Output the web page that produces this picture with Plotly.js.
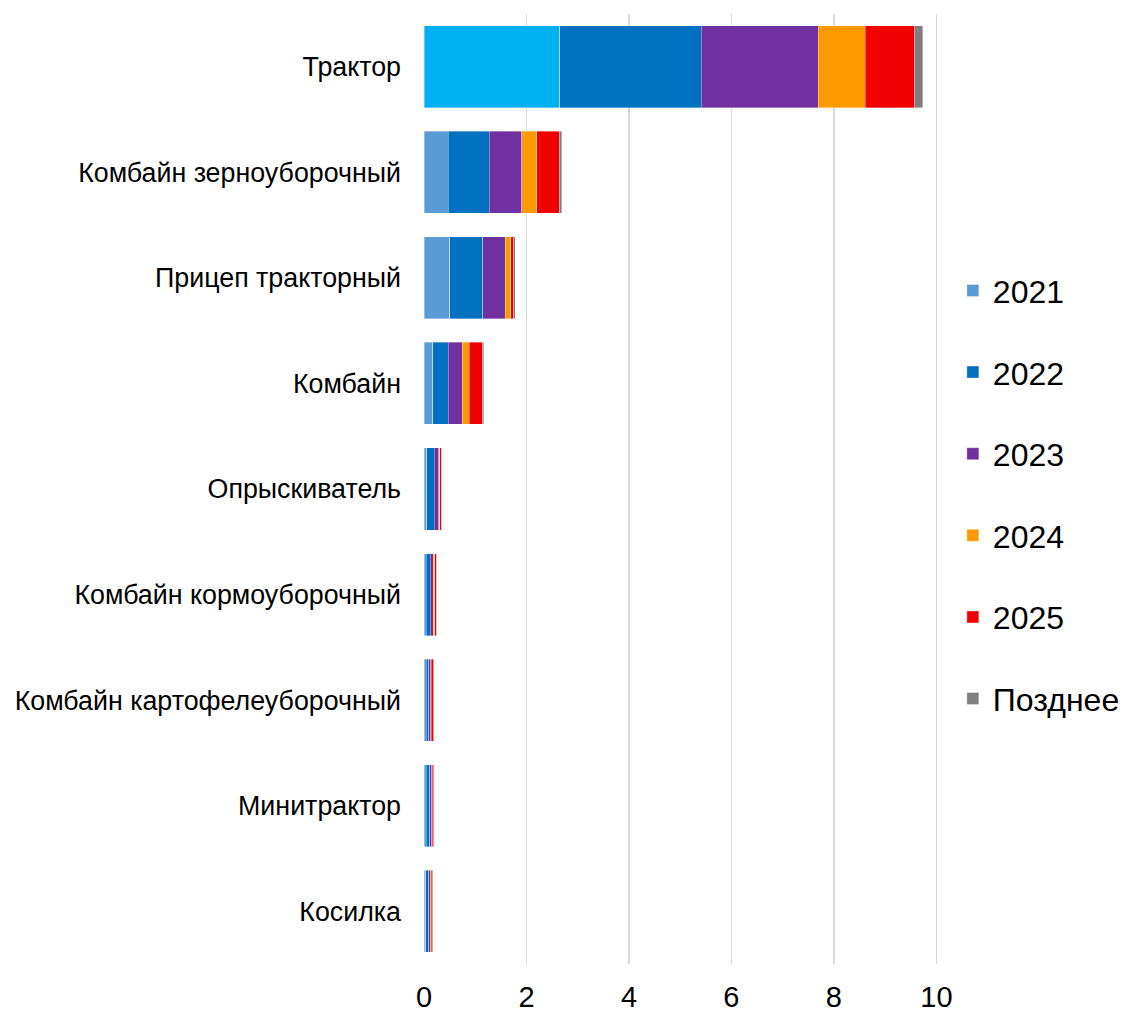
<!DOCTYPE html>
<html>
<head>
<meta charset="utf-8">
<script src="https://cdn.plot.ly/plotly-3.0.1.min.js"></script>
<style>html,body{margin:0;padding:0;background:#fff;}#chart{width:1124px;height:1014px;}</style>
</head>
<body>
<div id="chart"></div>
<script>
// Categories listed bottom to top
const categories = ["Косилка", "Минитрактор", "Комбайн картофелеуборочный", "Комбайн кормоуборочный",
  "Опрыскиватель", "Комбайн", "Прицеп тракторный", "Комбайн зерноуборочный", "Трактор"];
const seriesNames = ["2021", "2022", "2023", "2024", "2025", "Позднее"];
const v2021 = [0.03, 0.04, 0.045, 0.04, 0.05, 0.17, 0.50, 0.47, 2.65];
const v2022 = [0.06, 0.07, 0.045, 0.08, 0.15, 0.30, 0.65, 0.80, 2.76];
const v2023 = [0.03, 0.04, 0.04, 0.06, 0.09, 0.28, 0.44, 0.64, 2.28];
const v2024 = [0.02, 0.01, 0.01, 0.03, 0.02, 0.13, 0.10, 0.29, 0.92];
const v2025 = [0.03, 0.03, 0.05, 0.03, 0.03, 0.26, 0.06, 0.44, 0.97];
const vLater = [0.01, 0.01, 0.01, 0.01, 0.01, 0.03, 0.03, 0.05, 0.15];
const xTicks = [0, 2, 4, 6, 8, 10];

const colors = ["#5B9BD5", "#0070C0", "#7030A0", "#FF9900", "#F00000", "#808080"];
const tractorFirstColor = "#00B0F0";
const values = [v2021, v2022, v2023, v2024, v2025, vLater];

const traces = values.map((vals, i) => {
  let c = colors[i];
  if (i === 0) {
    c = categories.map(cat => cat === "Трактор" ? tractorFirstColor : colors[0]);
  }
  return {
    type: "bar",
    orientation: "h",
    name: seriesNames[i],
    y: categories,
    x: vals,
    legendgroup: "g" + i,
    marker: {color: c, line: {color: "rgba(255,255,255,0.45)", width: 0.8}},
    hoverinfo: "x+y+name"
  };
});

const layout = {
  width: 1124,
  height: 1014,
  margin: {l: 424, r: 162, t: 14, b: 50, autoexpand: false},
  barmode: "stack",
  bargap: 0.223,
  paper_bgcolor: "#ffffff",
  plot_bgcolor: "#ffffff",
  font: {family: "Liberation Sans, Arial, sans-serif", color: "#000000"},
  xaxis: {
    range: [0, 10.5],
    tickvals: xTicks,
    ticktext: xTicks.map(String),
    showgrid: true,
    gridcolor: "#d9d9d9",
    gridwidth: 1.5,
    zeroline: false,
    showline: false,
    ticks: "",
    tickfont: {size: 29, color: "#000"},
    ticklabelstandoff: 13,
    automargin: false,
    fixedrange: true
  },
  yaxis: {
    type: "category",
    categoryorder: "array",
    categoryarray: categories,
    showgrid: false,
    zeroline: false,
    showline: false,
    ticks: "",
    tickfont: {size: 26.8, color: "#000"},
    ticklabelstandoff: 22,
    automargin: false,
    fixedrange: true
  },
  legend: {
    x: 0.983,
    xanchor: "left",
    y: 0.494,
    yanchor: "middle",
    traceorder: "grouped",
    tracegroupgap: 37,
    font: {size: 32, color: "#000"},
    bgcolor: "rgba(0,0,0,0)"
  },
  showlegend: true
};

Plotly.newPlot("chart", traces, layout, {displayModeBar: false, staticPlot: true});
</script>
</body>
</html>
